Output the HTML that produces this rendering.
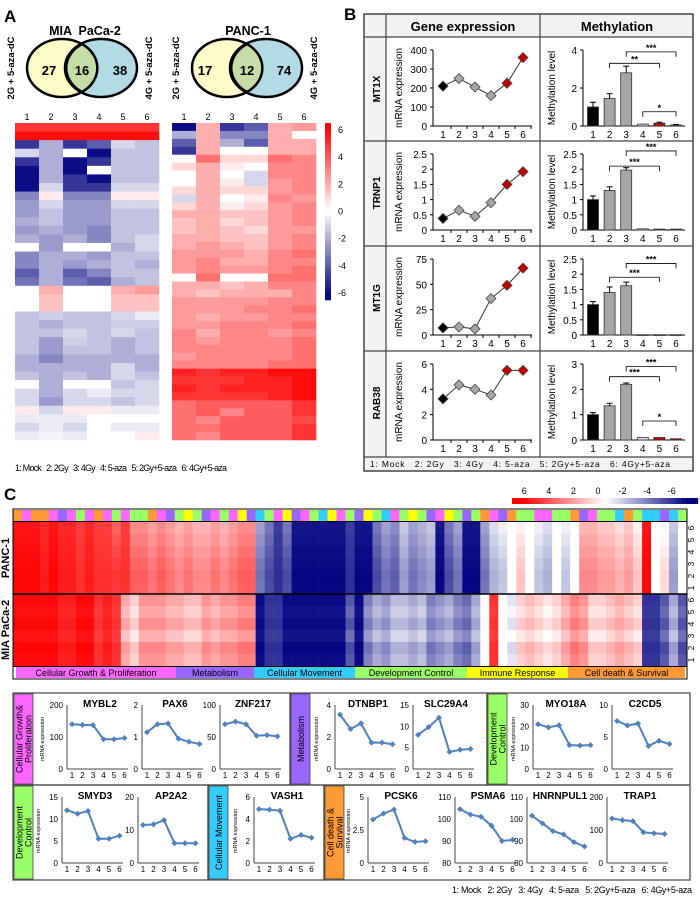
<!DOCTYPE html>
<html><head><meta charset="utf-8"><style>
body{margin:0;background:#fff}
svg{display:block;font-family:"Liberation Sans",Arial,sans-serif}
text{white-space:pre}
</style></head><body>
<svg id="fig" width="700" height="899" viewBox="0 0 700 899" xmlns="http://www.w3.org/2000/svg">
<rect width="700" height="899" fill="#fff"/>
<text x="4" y="22" font-size="17" font-weight="bold">A</text>
<text x="344" y="20" font-size="17" font-weight="bold">B</text>
<text x="4" y="500" font-size="17" font-weight="bold">C</text>
<g>
<text x="85" y="35" font-size="12.5" font-weight="bold" text-anchor="middle">MIA  PaCa-2</text>
<ellipse cx="62" cy="68" rx="35" ry="29" fill="#fdfbc8" stroke="#000" stroke-width="2.5"/>
<ellipse cx="101" cy="68" rx="36" ry="29" fill="#b3dbe6" stroke="#000" stroke-width="2.5"/>
<path d="M82,44 A36,29 0 0 0 82,92 A35,29 0 0 0 82,44Z" fill="#c5dea8" stroke="#000" stroke-width="2.5"/>
<text x="49" y="75" font-size="13" font-weight="bold" text-anchor="middle">27</text>
<text x="82" y="75" font-size="13" font-weight="bold" text-anchor="middle">16</text>
<text x="120" y="75" font-size="13" font-weight="bold" text-anchor="middle">38</text>
<text transform="rotate(-90 14 68)" x="14" y="68" font-size="9.5" font-weight="bold" text-anchor="middle">2G + 5-aza-dC</text>
<text transform="rotate(-90 152 68)" x="152" y="68" font-size="9.5" font-weight="bold" text-anchor="middle">4G + 5-aza-dC</text>
</g>
<g>
<text x="248" y="35" font-size="12.5" font-weight="bold" text-anchor="middle">PANC-1</text>
<ellipse cx="227" cy="68" rx="35" ry="29" fill="#fdfbc8" stroke="#000" stroke-width="2.5"/>
<ellipse cx="266" cy="68" rx="36" ry="29" fill="#b3dbe6" stroke="#000" stroke-width="2.5"/>
<path d="M247,44 A36,29 0 0 0 247,92 A35,29 0 0 0 247,44Z" fill="#c5dea8" stroke="#000" stroke-width="2.5"/>
<text x="205" y="75" font-size="13" font-weight="bold" text-anchor="middle">17</text>
<text x="247" y="75" font-size="13" font-weight="bold" text-anchor="middle">12</text>
<text x="284" y="75" font-size="13" font-weight="bold" text-anchor="middle">74</text>
<text transform="rotate(-90 179 68)" x="179" y="68" font-size="9.5" font-weight="bold" text-anchor="middle">2G + 5-aza-dC</text>
<text transform="rotate(-90 317 68)" x="317" y="68" font-size="9.5" font-weight="bold" text-anchor="middle">4G + 5-aza-dC</text>
</g>
<text x="15" y="471" font-size="9" textLength="212" lengthAdjust="spacing">1: Mock   2: 2Gy   3: 4Gy   4: 5-aza   5: 2Gy+5-aza   6: 4Gy+5-aza</text>
<g id="gA"></g><g id="gB"></g><g id="gC"></g><g id="gD"></g>
</svg>
<script>
// ---------- Panel A data ----------
const heatMiaRows=[[5,5,5,5,5,5],[6,6,6,6,6,6],[-5,-2,-5,-4,-1,-1.5],[-1,-2,0,-6,-1.5,-1.5],[-5,-2,-6,-5,-1.5,-1.5],[-6,-2,-6,0,-1.5,-1.5],[-6,-2,-5,-6,-1.5,-1.5],[-6,-1,-5,-5,-1,-1],[-3,0.5,-3,-3,0.5,0.5],[-2.5,-1,-2.5,-2.5,-1,-1],[-2.5,-1.5,-2.5,-2.5,-1.5,-1.5],[-2,-1.5,-2.5,-2.5,-1.5,-1.5],[-2.5,-2,-2.5,-3,-1.5,-1.5],[-2,-2.5,-2,-3,-1.5,-1],[0,-2.5,0,0,-2,-1],[-3,-2,-2,-2.5,-1.5,-1.5],[-3,-2,-2.5,-2,-1.5,-2],[-4,-2,-4,-3,-1.5,-1.5],[-3.5,-2,-3.5,-4,-2,-1.5],[0,2,0,0,2,2.5],[0,1.5,0,0,1.5,1.5],[0,1.5,0,0,1.5,1.5],[-1.5,-1.2,-1.5,-1.5,-1,-0.5],[-1.5,-2,-1.5,-1.5,-1.2,-1.2],[-1.5,-1.5,-1,-1.5,-1,-1.5],[-1.5,-2.5,-1.2,-1.5,-2,-1.5],[-1.5,-2.5,-1.5,-1.5,-2,-1.5],[-2,-3,-2,-2,-2,-2],[-2,-2,-2,-2,-1,-2],[-1.5,-2,-1.5,-2,-1,-1.5],[0,-2,0,0,-1.5,-1],[-1,-2,-1,-0.5,-1,-1],[-1,-2.5,-1,-1,-1.5,-1],[0.5,-1,0.5,0.5,-0.5,-0.5],[-0.5,-0.5,-0.5,0,0,0],[-1,-0.5,-1,0,-0.5,-0.5],[-0.5,-0.3,-0.5,0,0,0.5]];
const heatPancRows=[[-6,2,-5,-4,2,2.5],[-2,2,-3,-3,2,0],[-4,2,-2,-4,2,2],[-5,2,0,0,2,2],[0,3.5,1,1,3.5,3],[1,2,0.5,0,3,3],[0,2,0,-1,3,3],[0,2,0.5,-1,2.5,3],[1,2,1,1,2.5,3],[-1,2,0,0.5,3,2.5],[1,2,0.5,1,2.5,3],[2,2,1.5,1.5,2.5,3],[1.5,2,1,1.5,2.5,3],[1.5,2,1.5,1,2.5,2.5],[2,2,1.5,1.5,2.5,3],[2,2.5,2,1.5,2.5,3],[2.5,2.5,2.5,2,3,3.5],[2.5,3,2,2,3,3],[2.5,3,2.5,2.5,3,3.5],[0,3.5,0,0,3.5,3.5],[2,2,1.5,2,3,3],[2,1.5,2,2,2,3],[2.5,2.5,2.5,2.5,3,3],[2.5,2.5,2.5,3,3,3.5],[2.5,2,2.5,2.5,3,3],[2.5,2.5,3,3,3,3.5],[3,2,3,3,2.5,3],[3,2.5,3,3,3,3.5],[3,3,3,3,3,3.5],[2.5,3,3,3,3,3.5],[3,3,3,3,3.5,3.5],[5.5,5,5.5,5.5,6,6],[5,5,5,5.5,5.5,6],[5.5,5,5.5,5.5,5.5,6],[5,5,5,5,5.5,6],[3.5,4,4,4,4,5],[3.5,4,3,4,4,5],[3.5,3,4,4,4,4.5],[3.5,3.5,4,4,4,5],[3.5,3,4,4,4,5]];
const colNums=["1","2","3","4","5","6"];
const scaleTicks=[6,4,2,0,-2,-4,-6];
// ---------- Panel B data ----------
const genesB=["MT1X","TRNP1","MT1G","RAB38"];
const exprVals=[[210,250,205,160,225,360],[0.38,0.65,0.45,0.9,1.5,1.92],[7,8,6,36,49,66],[3.25,4.35,4.0,3.55,5.5,5.5]];
const exprTicks=[[0,100,200,300,400],[0,0.5,1,1.5,2,2.5],[0,25,50,75],[0,2,4,6]];
const methVals=[[1.0,1.45,2.8,0.1,0.15,0.05],[1.0,1.3,1.97,0.04,0.03,0.03],[1.0,1.4,1.62,0.01,0.01,0.01],[1.0,1.35,2.2,0.1,0.1,0.05]];
const methErr=[[0.25,0.25,0.35,0.02,0.05,0.03],[0.12,0.12,0.08,0.01,0.01,0.01],[0.1,0.18,0.12,0,0,0],[0.08,0.1,0.05,0.01,0.01,0.01]];
const methTicks=[[0,2,4],[0,0.5,1,1.5,2,2.5],[0,0.5,1,1.5,2,2.5],[0,1,2,3]];
const brackets=[[[2,5,3.3,"**"],[3,6,3.9,"***"],[4,6,0.75,"*"]],[[2,5,2.1,"***"],[3,6,2.6,"***"]],[[2,5,1.9,"***"],[3,6,2.35,"***"]],[[2,5,2.5,"***"],[3,6,2.9,"***"],[4,6,0.75,"*"]]];
const groups=["1","2","3","4","5","6"];
// ---------- Panel C heatmap data ----------
const colCats=[5,0,5,5,0,1,0,3,0,5,0,3,0,3,3,5,0,1,3,4,3,1,0,3,0,4,1,2,3,0,4,1,0,3,2,4,0,3,1,4,3,2,0,3,4,3,1,0,4,3,1,3,5,0,1,5,3,3,0,0,3,3,5,1,0,3,3,2,5,3,2,2,1,2,3];
const cPanc=[6,6,6,5.5,6,5.5,5.5,5,5.5,5,5,4.5,5,3.5,3.5,3,3.5,3,2.5,3,2.5,2.5,3,2.5,3,3.5,3.5,-3,-4,-5,-4,-6,-6,-6,-6,-6,-6,-5,-6,-6,-4,-3,-3.5,-2,-3,-2.5,-2,-6,-4,-3,-6,-6,-3,-1.5,-1,0,1,0,-1,-1.5,0,-1,0,2.5,2.5,2,2,1.5,2,1,6,0,0.5,-2,0];
const cMia=[6,6,6,6,6,5.5,5.5,6,6,5,5.5,5,2,1,2.5,2.5,2.5,2,2,1.5,1.5,2.5,2,2.5,2.5,3,3,-6,-5,-5,-6,-6,-6,-6,-6,-6,-6,-4,-6,-3,-2,-2.5,-1.5,-1.5,-2,-1.5,-3,-2.5,-2,-3,-3.5,-2,0,5,0,-0.5,1,1.5,1,0.5,1,2,3,2.5,1,1,1.5,2,1.5,1,-5,-5,-4,-2,-4];
const rowVarPanc=[-0.6,-0.3,0,0.3,0.5,0.4];
const rowVarMia=[0.2,-0.3,0.3,-0.5,0.5,0.1];
const catNames=["Cellular Growth & Proliferation","Metabolism","Cellular Movement","Development Control","Immune Response","Cell death & Survival"];
const catColors=["#ff66ff","#9966ff","#33ccff","#99ff66","#ffff00","#ff9933"];
const catSpans=[[16,176],[176,254],[254,355],[355,467],[467,568],[568,685]];
// ---------- Panel C mini charts ----------
const miniNames=["MYBL2","PAX6","ZNF217","DTNBP1","SLC29A4","MYO18A","C2CD5","SMYD3","AP2A2","VASH1","PCSK6","PSMA6","HNRNPUL1","TRAP1"];
const miniVals=[[140,138,137,93,93,97],[1.15,1.4,1.42,0.95,0.85,0.78],[70,74,70,52,53,51],[3.4,2.5,2.85,1.65,1.65,1.55],[8,9.8,12,4,4.5,4.7],[21,19.5,20.5,11.2,11,11.2],[7.5,6.8,7.1,3.6,4.4,3.9],[12,11.2,11.8,5.5,5.5,6.2],[11.5,11.7,13,6,6,6],[4.9,4.85,4.75,2.2,2.55,2.3],[3.3,3.75,4.05,1.9,1.6,1.65],[104.5,102,101,97,90,90.5],[101.5,98,94.5,93,89.5,87.5],[135,130,127,93,90,88]];
const miniTicks=[[0,100,200],[0,1,2],[0,50,100],[0,2,4],[0,5,10,15],[0,10,20,30],[0,5,10],[0,5,10,15],[0,10,20],[0,2,4,6],[0,2.5,5],[80,90,100,110],[80,90,100,110],[0,100,200]];
const miniMax=[200,2,100,4,15,30,10,15,20,6,5,110,110,200];

const NS="http://www.w3.org/2000/svg";
function mk(parent,tag,attrs,txt){const e=document.createElementNS(NS,tag);for(const k in attrs)e.setAttribute(k,attrs[k]);if(txt!==undefined)e.textContent=txt;parent.appendChild(e);return e;}
function col(v){const t=Math.min(Math.abs(v)/6.3,1);if(v>=0){const g=Math.round(255*(1-t));return `rgb(255,${g},${g})`;}const r=Math.round(255-255*t),b=Math.round(255-127*t);return `rgb(${r},${r},${b})`;}

// Panel A heatmaps
const gA=document.getElementById('gA');
function heat(rows,x0,x1,y0,y1,name){
  const g=mk(gA,'g',{});
  
  
  const cw=(x1-x0)/6,rh=(y1-y0)/rows.length;
  rows.forEach((r,i)=>r.forEach((v,j)=>{const c=mk(g,'rect',{x:x0+j*cw,y:y0+i*rh,width:cw+0.3,height:rh+0.3,fill:col(v)});
    
    }));
  colNums.forEach((n,j)=>mk(g,'text',{x:x0+(j+0.5)*cw,y:y0-3,'font-size':9,'text-anchor':'middle'},n));
}
heat(heatMiaRows,15,159,123,440,'heatmap-mia');
heat(heatPancRows,172,316,123,440,'heatmap-panc');
const cb=mk(gA,'g',{});


for(let i=0;i<60;i++){const v=6.5-13*i/59;mk(cb,'rect',{x:325,y:123+i*2.95,width:6,height:3.2,fill:col(v)});}
scaleTicks.forEach(t=>mk(cb,'text',{x:338,y:123+(6.5-t)/13*177+3,'font-size':9},String(t)));

// Panel B
const gB=document.getElementById('gB');
const bx0=364,bx1=693,by0=14,rowTops=[37,141,246,351],legTop=457,by1=471;
mk(gB,'rect',{x:bx0,y:by0,width:bx1-bx0,height:23,fill:'#f2f2f2'});
mk(gB,'rect',{x:bx0,y:37,width:22,height:420,fill:'#f2f2f2'});
mk(gB,'rect',{x:bx0,y:legTop,width:bx1-bx0,height:by1-legTop,fill:'#f2f2f2'});
const frame=mk(gB,'rect',{x:bx0,y:by0,width:bx1-bx0,height:by1-by0,fill:'none',stroke:'#444','stroke-width':1.5});


[[386,by0,386,legTop],[540,by0,540,legTop]].forEach(l=>mk(gB,'line',{x1:l[0],y1:l[1],x2:l[2],y2:l[3],stroke:'#444','stroke-width':1.2}));
[37,141,246,351,457].forEach(y=>mk(gB,'line',{x1:bx0,y1:y,x2:bx1,y2:y,stroke:'#444','stroke-width':1.2}));
mk(gB,'text',{x:463,y:31,'font-size':13,'font-weight':'bold','text-anchor':'middle'},'Gene expression');
mk(gB,'text',{x:617,y:31,'font-size':13,'font-weight':'bold','text-anchor':'middle'},'Methylation');
mk(gB,'text',{x:370,y:467,'font-size':8.5,textLength:300,lengthAdjust:'spacing'},'1: Mock   2: 2Gy   3: 4Gy   4: 5-aza   5: 2Gy+5-aza   6: 4Gy+5-aza');
const ptCol=["#000","#a6a6a6","#a6a6a6","#a6a6a6","#c00000","#c00000"];
const barCol=["#000","#a6a6a6","#a6a6a6","#d9d9d9","#c00000","#c00000"];
genesB.forEach((gname,k)=>{
  const top=rowTops[k],yT=top+13,yB=top+89;
  const gl=mk(gB,'text',{x:380,y:top+52,'font-size':10,'font-weight':'bold','text-anchor':'middle',transform:`rotate(-90 380 ${top+52})`},gname);
  
  
  const g=mk(gB,'g',{});
  
  
  const ticks=exprTicks[k],ymax=ticks[ticks.length-1];
  const ys=v=>yB-(v/ymax)*(yB-yT), xs=i=>443+i*16;
  mk(g,'line',{x1:433,y1:yT,x2:433,y2:yB,stroke:'#000'});
  mk(g,'line',{x1:433,y1:yB,x2:532,y2:yB,stroke:'#000'});
  ticks.forEach(t=>{mk(g,'line',{x1:430,y1:ys(t),x2:433,y2:ys(t),stroke:'#000'});mk(g,'text',{x:427,y:ys(t)+4,'font-size':10,'text-anchor':'end'},String(t));});
  groups.forEach((n,i)=>{mk(g,'line',{x1:xs(i)+8,y1:yB,x2:xs(i)+8,y2:yB+3,stroke:'#000'});mk(g,'text',{x:xs(i),y:yB+12,'font-size':10,'text-anchor':'middle'},n);});
  mk(g,'text',{x:402,y:(yT+yB)/2,'font-size':10,'text-anchor':'middle',transform:`rotate(-90 402 ${(yT+yB)/2})`},'mRNA expression');
  const vals=exprVals[k];
  mk(g,'polyline',{points:vals.map((v,i)=>xs(i)+','+ys(v)).join(' '),fill:'none',stroke:'#333','stroke-width':1});
  vals.forEach((v,i)=>{const d=mk(g,'path',{d:`M${xs(i)},${ys(v)-5}l5,5l-5,5l-5,-5z`,fill:ptCol[i],stroke:'#444','stroke-width':0.8});
    
    });
  const gm=mk(gB,'g',{});
  
  
  const mt=methTicks[k],mmax=mt[mt.length-1];
  const my=v=>yB-(v/mmax)*(yB-yT), mx=i=>593+i*16.6;
  mk(gm,'line',{x1:583,y1:yT,x2:583,y2:yB,stroke:'#000'});
  mk(gm,'line',{x1:583,y1:yB,x2:685,y2:yB,stroke:'#000'});
  mt.forEach(t=>{mk(gm,'line',{x1:580,y1:my(t),x2:583,y2:my(t),stroke:'#000'});mk(gm,'text',{x:577,y:my(t)+4,'font-size':10,'text-anchor':'end'},String(t));});
  mk(gm,'text',{x:555,y:(yT+yB)/2,'font-size':10,'text-anchor':'middle',transform:`rotate(-90 555 ${(yT+yB)/2})`},'Methylation level');
  methVals[k].forEach((v,i)=>{
    const b=mk(gm,'rect',{x:mx(i)-5.5,y:my(v),width:11,height:Math.max(yB-my(v),0.8),fill:barCol[i],stroke:'#333','stroke-width':0.8});
    
    
    const e=methErr[k][i];
    if(e>0.02){mk(gm,'line',{x1:mx(i),y1:my(v),x2:mx(i),y2:my(v+e),stroke:'#000'});mk(gm,'line',{x1:mx(i)-3,y1:my(v+e),x2:mx(i)+3,y2:my(v+e),stroke:'#000'});}
    mk(gm,'text',{x:mx(i),y:yB+12,'font-size':10,'text-anchor':'middle'},groups[i]);
  });
  brackets[k].forEach(br=>{const a=mx(br[0]-1),b2=mx(br[1]-1),y=my(br[2]);
    mk(gm,'path',{d:`M${a},${y+5}V${y}H${b2}V${y+5}`,fill:'none',stroke:'#000','stroke-width':0.8});
    mk(gm,'text',{x:(a+b2)/2,y:y-1,'font-size':9,'font-weight':'bold','text-anchor':'middle'},br[3]);});
});

// Panel C heatmap
const gC=document.getElementById('gC');
const hx0=13,hx1=687,cw=(hx1-hx0)/75;
const csb=mk(gC,'g',{});


for(let i=0;i<60;i++){const v=7-14*i/59;mk(csb,'rect',{x:512+i*3.1,y:498,width:3.3,height:6,fill:col(v)});}
scaleTicks.forEach(t=>mk(csb,'text',{x:598-t*12.3,y:494,'font-size':9,'text-anchor':'middle'},String(t)));
colCats.forEach((c,i)=>{const r=mk(gC,'rect',{x:hx0+i*cw,y:510,width:cw+0.2,height:11,fill:catColors[c]});
  
  });
function cblock(vals,rv,y0,name){
  const g=mk(gC,'g',{});
  
  
  for(let r=0;r<6;r++)vals.forEach((v,i)=>{const vv=v+Math.sign(v)*rv[r]*(Math.abs(v)<5?1:0.3);
    mk(g,'rect',{x:hx0+i*cw,y:y0+r*12,width:cw+0.3,height:12.3,fill:col(vv)});});
  for(let r=0;r<6;r++)mk(g,'text',{x:694,y:y0+r*12+6,'font-size':8,'text-anchor':'middle',transform:`rotate(-90 694 ${y0+r*12+6})`},String(6-r));
}
cblock(cPanc,rowVarPanc,522,'heatmap-c-panc');
cblock(cMia,rowVarMia,594,'heatmap-c-mia');
mk(gC,'rect',{x:hx0,y:509,width:hx1-hx0,height:170,fill:'none',stroke:'#000','stroke-width':1});
mk(gC,'line',{x1:hx0,y1:521.5,x2:hx1,y2:521.5,stroke:'#000'});
mk(gC,'line',{x1:hx0,y1:594,x2:hx1,y2:594,stroke:'#000','stroke-width':1.5});
mk(gC,'line',{x1:hx0,y1:666.5,x2:hx1,y2:666.5,stroke:'#000'});
mk(gC,'text',{x:9,y:558,'font-size':11,'font-weight':'bold','text-anchor':'middle',transform:'rotate(-90 9 558)'},'PANC-1');
mk(gC,'text',{x:9,y:630,'font-size':11,'font-weight':'bold','text-anchor':'middle',transform:'rotate(-90 9 630)'},'MIA PaCa-2');
catSpans.forEach((s,i)=>{const r=mk(gC,'rect',{x:s[0],y:667,width:s[1]-s[0],height:11,fill:catColors[i]});
  
  
  mk(gC,'text',{x:(s[0]+s[1])/2,y:676,'font-size':9,'text-anchor':'middle'},catNames[i]);});

// Panel C mini charts
const gD=document.getElementById('gD');
const boxes=[[13,693,290,785],[290,693,487,785],[487,693,690,785],[13,785,208,880],[208,785,324,880],[324,785,690,880]];
const labels=[["Cellular Growth&","Proliferation"],["Metabolism"],["Development","Control"],["Development","Control"],["Cellular Movement"],["Cell death &","Survival"]];
const labCol=[0,1,3,3,2,5];
boxes.forEach((b,i)=>{
  const r=mk(gD,'rect',{x:b[0],y:b[1],width:b[2]-b[0],height:b[3]-b[1],fill:'none',stroke:'#444','stroke-width':1.2});
  
  
  mk(gD,'rect',{x:b[0]+1,y:b[1]+1,width:19,height:b[3]-b[1]-2,fill:catColors[labCol[i]],stroke:'#444','stroke-width':0.8});
  const cy=(b[1]+b[3])/2,L=labels[i];
  L.forEach((t,j)=>{const x=b[0]+10.5+(j-(L.length-1)/2)*9+3.5;mk(gD,'text',{x:x,y:cy,'font-size':9,'text-anchor':'middle',transform:`rotate(-90 ${x} ${cy})`},t);});
});
const miniAxis=[67,142,220,335,413,533,612,62,138,254,368,455,527,607];
const miniRow=[0,0,0,0,0,0,0,1,1,1,1,1,1,1];
miniNames.forEach((n,k)=>{
  const g=mk(gD,'g',{});
  
  
  const x0=miniAxis[k],x1=x0+61,yT=miniRow[k]?797:705,yB=miniRow[k]?863:769;
  const t=miniTicks[k],mn=t[0],mx=miniMax[k];
  const ys=v=>yB-(v-mn)/(mx-mn)*(yB-yT),xs=i=>x0+5+i*10.5;
  mk(g,'line',{x1:x0,y1:yT,x2:x0,y2:yB,stroke:'#444'});
  mk(g,'line',{x1:x0,y1:yB,x2:x1,y2:yB,stroke:'#444'});
  t.forEach(v=>mk(g,'text',{x:x0-4,y:ys(v)+3,'font-size':8,'text-anchor':'end'},String(v)));
  mk(g,'text',{x:x0+33,y:yT+2,'font-size':10,'font-weight':'bold','text-anchor':'middle'},n);
  groups.forEach((gname,i)=>mk(g,'text',{x:xs(i),y:yB+9,'font-size':8,'text-anchor':'middle'},gname));
  const vals=miniVals[k];
  mk(g,'polyline',{points:vals.map((v,i)=>xs(i)+','+ys(v)).join(' '),fill:'none',stroke:'#4f81bd','stroke-width':2});
  vals.forEach((v,i)=>{const d=mk(g,'path',{d:`M${xs(i)},${ys(v)-3}l3,3l-3,3l-3,-3z`,fill:'#4f81bd'});
    
    });
});
[[44,739],[318,739],[515,739],[40,831],[237,831],[350,831]].forEach(p=>mk(gD,'text',{x:p[0],y:p[1],'font-size':5.5,'text-anchor':'middle',transform:`rotate(-90 ${p[0]} ${p[1]})`},'mRNA expression'));
mk(gD,'text',{x:692,y:893,'font-size':9,'text-anchor':'end',textLength:240,lengthAdjust:'spacing'},'1: Mock   2: 2Gy   3: 4Gy   4: 5-aza   5: 2Gy+5-aza   6: 4Gy+5-aza');
</script>
</body></html>
